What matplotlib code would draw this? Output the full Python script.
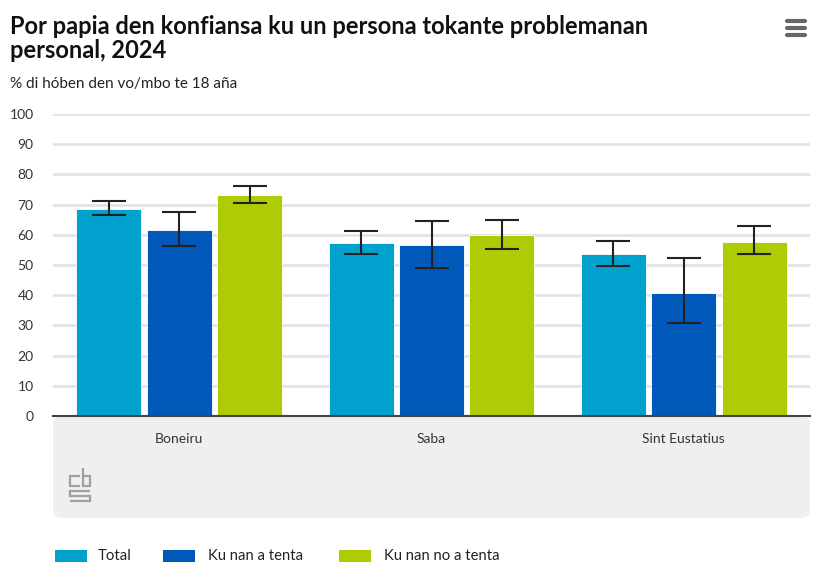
import matplotlib.pyplot as plt
import matplotlib.patches as mpatches
from matplotlib.patches import FancyBboxPatch
import numpy as np

categories = ['Boneiru', 'Saba', 'Sint Eustatius']
series = ['Total', 'Ku nan a tenta', 'Ku nan no a tenta']
values = [
    [68.5, 57.3, 53.5],
    [61.6, 56.5, 40.6],
    [73.3, 59.9, 57.7],
]
err_low = [
    [66.6, 53.7, 49.8],
    [56.2, 48.9, 30.9],
    [70.4, 55.3, 53.6],
]
err_high = [
    [71.2, 61.4, 57.9],
    [67.4, 64.5, 52.3],
    [76.2, 64.9, 62.9],
]
colors = ['#00a1cd', '#0058b8', '#afcb05']

plt.rcParams['font.family'] = ['Lato', 'DejaVu Sans']

fig = plt.figure(figsize=(8.21, 5.81), dpi=100)
W, H = 821, 581
panel_c = '#efefef'

# gray panel under the axis
panel = FancyBboxPatch((53 / W, (H - 518) / H), (810 - 53) / W, (518 - 416) / H,
                       boxstyle='round,pad=0,rounding_size=0.012',
                       transform=fig.transFigure, facecolor=panel_c,
                       edgecolor='none', zorder=-1)
fig.patches.append(panel)

ax = fig.add_axes([53 / W, (H - 416) / H, (810 - 53) / W, (416 - 114) / H])
ax.set_facecolor('none')

x = np.arange(len(categories))
bw = 0.258
step = 0.279
for i, s in enumerate(series):
    pos = x + (i - 1) * step
    v = np.array(values[i])
    lo = v - np.array(err_low[i])
    hi = np.array(err_high[i]) - v
    ax.bar(pos, v, width=bw, color=colors[i], edgecolor='white', linewidth=0.6,
           label=s, zorder=2)
    ax.errorbar(pos, v, yerr=[lo, hi], fmt='none', ecolor='#222222',
                elinewidth=1.5, capsize=12, capthick=1.5, zorder=3)

ax.set_xlim(-0.5, 2.5)
ax.set_ylim(0, 100)
ax.set_yticks(range(0, 101, 10))
ax.yaxis.grid(True, color='#e3e3e3', linewidth=2)
ax.set_axisbelow(True)
for sp in ['top', 'right', 'left']:
    ax.spines[sp].set_visible(False)
ax.spines['bottom'].set_color('#444444')
ax.spines['bottom'].set_linewidth(1.5)
ax.tick_params(axis='y', length=0, labelsize=10, colors='#333333', pad=14)
ax.tick_params(axis='x', length=0, labelsize=10, colors='#333333', pad=12)
ax.set_xticks(x)
ax.set_xticklabels(categories)

# title and subtitle
fig.text(10 / W, 1 - 26 / H, 'Por papia den konfiansa ku un persona tokante problemanan',
         fontsize=17, fontweight='bold', color='#111111', va='center')
fig.text(10 / W, 1 - 51 / H, 'personal, 2024',
         fontsize=17, fontweight='bold', color='#111111', va='center')
fig.text(10 / W, 1 - 84 / H, '% di hóben den vo/mbo te 18 aña',
         fontsize=11, color='#222222', va='center')

# hamburger menu icon
for yy in (21, 28, 35):
    fig.add_artist(plt.Line2D([787 / W, 805 / W], [1 - yy / H, 1 - yy / H],
                              color='#666666', linewidth=3, solid_capstyle='round'))

# cbs logo (simplified)
segs = [
    [(80, 476), (70, 476), (70, 486), (80, 486)],
    [(83, 468), (83, 486), (90, 486), (90, 476), (83, 476)],
    [(90, 491), (70, 491), (70, 496), (90, 496), (90, 501), (70, 501)],
]
for seg in segs:
    xs = [p[0] / W for p in seg]
    ys = [1 - p[1] / H for p in seg]
    fig.add_artist(plt.Line2D(xs, ys, color='#a0a0a0', linewidth=1.6,
                              solid_joinstyle='miter', solid_capstyle='butt'))

# legend
leg_items = [(55, 98), (163, 208), (339, 384)]
for (px, tx), s, c in zip(leg_items, series, colors):
    fig.patches.append(mpatches.Rectangle((px / W, 1 - 562 / H), 32 / W, 12 / H,
                                          transform=fig.transFigure, facecolor=c,
                                          edgecolor='none'))
    fig.text(tx / W, 1 - 556 / H, s, fontsize=10.7, color='#222222', va='center')

fig.savefig('out.png', dpi=100)
